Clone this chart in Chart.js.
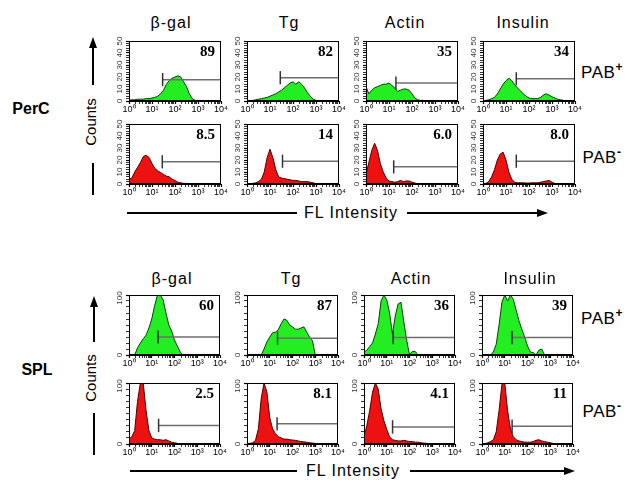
<!DOCTYPE html>
<html>
<head>
<meta charset="utf-8">
<script src="https://cdn.jsdelivr.net/npm/chart.js@4.4.1/dist/chart.umd.min.js"></script>
<style>
  html, body { margin: 0; padding: 0; background: #fff; }
  #page { position: relative; width: 640px; height: 493px; overflow: hidden; font-family: "Liberation Sans", Arial, sans-serif; color: #000; }
  #page canvas { position: absolute; }
  .lbl { position: absolute; white-space: nowrap; transform: translate(-50%, -50%); line-height: 1; }
  .title { font-size: 16px; letter-spacing: 1px; }
  .row { font-size: 16px; font-weight: bold; }
  .pab { font-size: 17px; letter-spacing: 0.5px; }
  .pab sup { font-size: 12px; font-weight: bold; vertical-align: 7px; }
  .counts { font-size: 15px; transform: translate(-50%, -50%) rotate(-90deg); }
  .fl { font-size: 16px; letter-spacing: 1px; }
  svg { position: absolute; left: 0; top: 0; }
</style>
</head>
<body>
<div id="page">
<svg width="640" height="493">
  <g stroke="#000" stroke-width="2" fill="none">
    <line x1="93" y1="85" x2="93" y2="45"/>
    <line x1="93" y1="163" x2="93" y2="195"/>
    <line x1="94" y1="342" x2="94" y2="304"/>
    <line x1="94" y1="413" x2="94" y2="455"/>
    <line x1="127" y1="213" x2="297" y2="213"/>
    <line x1="407" y1="213" x2="540" y2="213"/>
    <line x1="130" y1="471" x2="297" y2="471"/>
    <line x1="410" y1="471" x2="567" y2="471"/>
  </g>
  <g fill="#000">
    <polygon points="93,37 89,48 97,48"/>
    <polygon points="94,296 90,307 98,307"/>
    <polygon points="548,213 537,209 537,217"/>
    <polygon points="575,471 564,467 564,475"/>
  </g>
</svg>
</div>
<script>
// shared intensity channels (log-spaced, 1 .. 10^4)
const fl = [1, 1.33, 1.78, 2.37, 3.16, 4.22, 5.62, 7.5, 10, 13.3, 17.8, 23.7, 31.6, 42.2, 56.2, 75, 100,
            133, 178, 237, 316, 422, 562, 750, 1000, 1330, 1780, 2370, 3160, 4220, 5620, 7500, 10000];
const markers = ['β-gal', 'Tg', 'Actin', 'Insulin'];
const xDecades = [1, 10, 100, 1000, 10000];
const xTickLabels = ['10⁰', '10¹', '10²', '10³', '10⁴'];
const percYTicks = [0, 10, 20, 30, 40, 50];
const splYTicks = [0, 100];

// PerC, PAB+
const percPosBgal  = [0.5,1,1,1.5,1.5,1.5,2,2,2.5,3,4,6,9,14,17,19,20,21,20,16,12,6,2,0.5,0,0,0,0,0,0,0,0,0];
const percPosTg    = [0,0.3,0.5,1,1.5,2,2.5,3,4,5,6,7.5,9,11,13,15,16,14,16,14,11,7,4,1.5,0.5,0,0,0,0,0,0,0,0];
const percPosActin = [12,6,9,11,12,13,14,14,15,13,11,8,9,10,10,9,6,2.5,1,0.5,0.5,0.3,0,0,0,0,0,0,0,0,0,0,0];
const percPosIns   = [0.3,0.5,1,2,3,6,10,14,17,19,17,13.5,11,8.5,6,4,2.5,2,2,2,3,5,6,5,3.5,2.5,1.5,1,0.5,0.3,0,0,0];
// PerC, PAB-
const percNegBgal  = [4,5,10,14,18,23,24,22,17,13,11,9.5,8,6.5,6,4,3,1.5,1,0.5,0.5,0.3,0,0,0,0,0,0,0,0,0,0,0];
const percNegTg    = [0.3,0.3,0.5,1,2,4,10,22,29,22,12,6,5,4.5,4,3.5,3,3,2.5,2,2,2,1.5,1,0.3,0,0,0,0,0,0,0,0];
const percNegActin = [8,18,28,34,28,17,10,5,2.5,2,1.5,2,3,2,2.5,2.5,1.5,0.8,0.3,0,0,0,0,0,0,0,0,0,0,0,0,0,0];
const percNegIns   = [0,0.5,2,6,12,20,25,26.5,20,10,4,1.5,1,1,1,0.8,0.8,1,1,1,1.5,2,2.5,3,1.5,0.5,0,0,0,0,0,0,0];
// SPL, PAB+
const splPosBgal   = [0,0,0,12,20,27,33,45,60,82,100,100,92,70,50,40,25,15,5,0,0,0,0,0,0,0,0,0,0,0,0,0,0];
const splPosTg     = [0,0,0,0,0,0,10,22,30,37,38,42,52,60,58,50,47,43,43,45,47,38,30,24,0,0,0,0,0,0,0,0,0];
const splPosActin  = [5,8,14,20,35,52,90,100,92,70,35,65,85,88,55,25,0,6,6,0,0,0,0,0,0,0,0,0,0,0,0,0,0];
const splPosIns    = [0,0,0,0,5,18,50,88,100,90,100,93,75,57,43,30,15,5,4,0,8,10,0,0,0,0,0,0,0,0,0,0,0];
// SPL, PAB-
const splNegBgal   = [8,12,22,70,100,100,55,22,10,8,7,7,6,7,5,3,2,1,0.5,0,0,0,0,0,0,0,0,0,0,0,0,0,0];
const splNegTg     = [1,1,2,6,25,75,100,85,43,25,17,12,10,8,8,7,6.5,6,5,4,3.5,3,2,1.5,1,0.5,0.3,0.3,0.3,0.3,0.3,0.3,0];
const splNegActin  = [12,30,55,85,100,90,58,38,24,12,7,6,5,5,6,5,4,4,3,3,2,1.5,1,0.5,0,0,0,0,0,0,0,0,0];
const splNegIns    = [0,0,2,4,7,20,55,98,100,55,25,12,7,5,4,3,3,3,4,6,7,5,4,3,2,1,0,0,0,0,0,0,0];

// gate start (FL) and gate level (counts), percent positive
const percPosGateX = [29, 28, 20, 28];   const percPosGateY = [17.8, 19.4, 15, 18.5];
const percNegGateX = [28, 35, 16, 28];   const percNegGateY = [18.5, 19, 14.3, 19];
const splPosGateX  = [19, 22, 19, 21];   const splPosGateY  = [30, 28, 29, 29];
const splNegGateX  = [20, 21, 18, 21];   const splNegGateY  = [30.5, 33, 28, 29];
const percPosPct = ['89', '82', '35', '34'];
const percNegPct = ['8.5', '14', '6.0', '8.0'];
const splPosPct  = ['60', '87', '36', '39'];
const splNegPct  = ['2.5', '8.1', '4.1', '11'];

const GREEN = '#22ee22', GREEN_EDGE = '#0b3d0b';
const RED = '#ee1111', RED_EDGE = '#4a0000';

const panels = [
  { name: 'PerC', yMax: 50, yStep: 2, yTicks: percYTicks, half: 5.5, topShift: 0,
    rows: [
      { series: [percPosBgal, percPosTg, percPosActin, percPosIns], gx: percPosGateX, gy: percPosGateY, pct: percPosPct, fill: GREEN, edge: GREEN_EDGE },
      { series: [percNegBgal, percNegTg, percNegActin, percNegIns], gx: percNegGateX, gy: percNegGateY, pct: percNegPct, fill: RED, edge: RED_EDGE }
    ] },
  { name: 'SPL', yMax: 100, yStep: 10, yTicks: splYTicks, half: 11, topShift: 3,
    rows: [
      { series: [splPosBgal, splPosTg, splPosActin, splPosIns], gx: splPosGateX, gy: splPosGateY, pct: splPosPct, fill: GREEN, edge: GREEN_EDGE },
      { series: [splNegBgal, splNegTg, splNegActin, splNegIns], gx: splNegGateX, gy: splNegGateY, pct: splNegPct, fill: RED, edge: RED_EDGE }
    ] }
];

// page geometry
const geometry = [
  { top: [41, 124], h: [60, 60], left: [129, 247, 366, 483], w: 92,
    titleX: [171, 289, 405, 523], titleY: 23, rowY: 109, countsY: 122, flX: 351, flY: 213, pabY: [71, 156] },
  { top: [295, 383], h: [60, 61], left: [129, 247, 364, 482], w: 91,
    titleX: [172, 291, 411, 530], titleY: 279, rowY: 370, countsY: 378, flX: 353, flY: 471, pabY: [317, 410] }
];

const PADL = 20, PADR = 12, PADT = 9, PADB = 15;
const page = document.getElementById('page');
Chart.defaults.font.family = '"Liberation Sans", Arial, sans-serif';

const xTickValues = [];
for (let e = 0; e < 4; e++) for (let k = 1; k < 10; k++) xTickValues.push(k * Math.pow(10, e));
xTickValues.push(10000);

const decor = {
  id: 'decor',
  afterDraw(chart, args, o) {
    const { ctx, chartArea: a } = chart;
    const y = chart.scales.y;
    ctx.save();
    ctx.strokeStyle = '#000';
    ctx.lineWidth = 1;
    ctx.strokeRect(a.left + 0.5, a.top + 0.5, a.right - a.left - 1, a.bottom - a.top - 1);
    ctx.fillStyle = '#333';
    ctx.font = '8px "Liberation Sans", Arial, sans-serif';
    ctx.textAlign = 'center';
    ctx.textBaseline = 'middle';
    o.yTicks.forEach(v => {
      const shift = v === o.yMax ? o.topShift : 0;
      ctx.save();
      ctx.translate(a.left - 9, y.getPixelForValue(v) + shift);
      ctx.rotate(-Math.PI / 2);
      ctx.fillText(String(v), 0, 0);
      ctx.restore();
    });
    ctx.fillStyle = '#000';
    ctx.font = 'bold 15px "Liberation Serif", "Times New Roman", serif';
    ctx.textAlign = 'right';
    ctx.fillText(o.pct, a.right - 6, a.top + 11);
    ctx.restore();
  }
};

function plot(x0, y0, w, h, hist, gx, gy, half, pct, p, fillC, edgeC) {
  const cv = document.createElement('canvas');
  cv.width = w + PADL + PADR;
  cv.height = h + PADT + PADB;
  cv.style.left = (x0 - PADL) + 'px';
  cv.style.top = (y0 - PADT) + 'px';
  page.appendChild(cv);
  const yVals = [];
  for (let v = 0; v <= p.yMax; v += p.yStep) yVals.push(v);
  new Chart(cv, {
    type: 'line',
    data: {
      datasets: [
        { data: hist.map((v, i) => ({ x: fl[i], y: v })), fill: 'origin', backgroundColor: fillC,
          borderColor: edgeC, borderWidth: 1, pointRadius: 0, tension: 0, order: 2 },
        { data: [{ x: gx, y: gy }, { x: 10000, y: gy }], borderColor: '#6e6e6e', borderWidth: 1.5,
          pointRadius: 0, fill: false, order: 1 },
        { data: [{ x: gx, y: gy - half }, { x: gx, y: gy + half }], borderColor: '#333', borderWidth: 1.5,
          pointRadius: 0, fill: false, order: 0 }
      ]
    },
    options: {
      responsive: false,
      animation: false,
      events: [],
      layout: { padding: { top: PADT, right: PADR, left: 0, bottom: 0 } },
      plugins: { legend: { display: false }, tooltip: { enabled: false },
                 decor: { yTicks: p.yTicks, yMax: p.yMax, topShift: p.topShift, pct: pct } },
      scales: {
        x: {
          type: 'logarithmic', min: 1, max: 10000,
          border: { color: '#000', width: 1 },
          grid: { drawOnChartArea: false, tickLength: 3, tickColor: '#000',
                  tickWidth: c => (c.tick && xDecades.includes(c.tick.value)) ? 1.2 : 0.8 },
          ticks: { autoSkip: false, maxRotation: 0, minRotation: 0, padding: 0, color: '#000',
                   font: { size: 9 },
                   callback: v => { const i = xDecades.indexOf(v); return i >= 0 ? xTickLabels[i] : ''; } },
          afterBuildTicks: s => { s.ticks = xTickValues.map(v => ({ value: v })); },
          afterFit: s => { s.height = PADB; }
        },
        y: {
          min: 0, max: p.yMax,
          border: { color: '#000', width: 1 },
          grid: { drawOnChartArea: false, tickLength: 3, tickColor: '#000',
                  tickWidth: c => (c.tick && p.yTicks.includes(c.tick.value)) ? 1.2 : 0.8 },
          ticks: { display: false },
          afterBuildTicks: s => { s.ticks = yVals.map(v => ({ value: v })); },
          afterFit: s => { s.width = PADL; }
        }
      }
    },
    plugins: [decor]
  });
}

function addLabel(html, cls, x, y) {
  const d = document.createElement('div');
  d.className = 'lbl ' + cls;
  d.innerHTML = html;
  d.style.left = x + 'px';
  d.style.top = y + 'px';
  page.appendChild(d);
}

panels.forEach((p, pi) => {
  const g = geometry[pi];
  markers.forEach((m, c) => addLabel(m, 'title', g.titleX[c], g.titleY));
  addLabel(p.name, 'row', pi === 0 ? 31 : 37, g.rowY);
  addLabel('Counts', 'counts', 90, g.countsY);
  addLabel('FL Intensity', 'fl', g.flX, g.flY);
  addLabel('PAB<sup>+</sup>', 'pab', 602, g.pabY[0]);
  addLabel('PAB<sup>-</sup>', 'pab', 602, g.pabY[1]);
  p.rows.forEach((r, ri) => {
    r.series.forEach((hist, c) => {
      plot(g.left[c], g.top[ri], g.w, g.h[ri], hist, r.gx[c], r.gy[c], p.half, r.pct[c], p, r.fill, r.edge);
    });
  });
});
</script>
</body>
</html>
